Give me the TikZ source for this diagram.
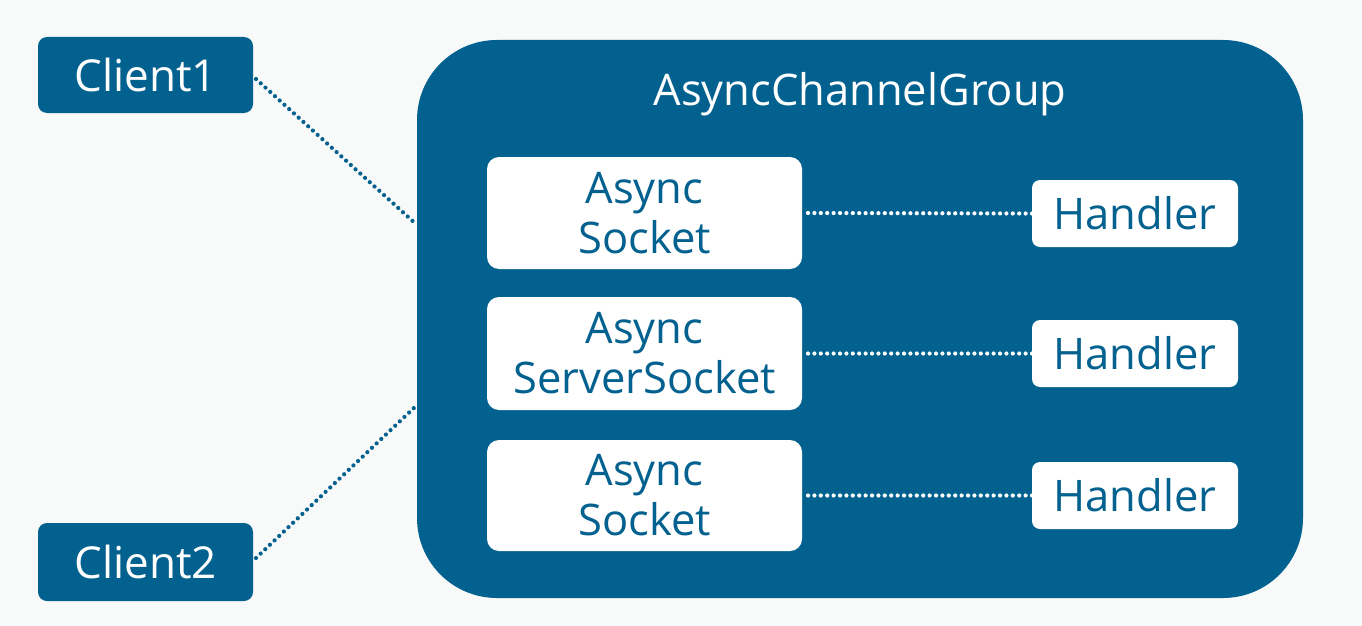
\documentclass[tikz,border=0pt]{standalone}
\usepackage{fontspec}
\setmainfont{Open Sans}
\definecolor{bg}{HTML}{F8F9F9}
\definecolor{blu}{HTML}{03618F}
\begin{document}
\begin{tikzpicture}[x=1pt,y=-1pt,
  every node/.style={inner sep=0pt,outer sep=0pt},
  bluebox/.style={fill=blu,text=white,rounded corners=9pt,font=\fontsize{44}{50}\selectfont},
  whitebox/.style={fill=white,text=blu,rounded corners=12pt,align=center,font=\fontsize{43.5}{50}\selectfont},
  dotline/.style={line width=4.2pt,line cap=round,dash pattern=on 0pt off 6.4pt},
  ]
\fill[bg] (0,0) rectangle (1362,626);
\useasboundingbox (0,0) rectangle (1362,626);
% group
\node[fill=blu,rounded corners=80pt,minimum width=886pt,minimum height=558pt] (grp) at (860,319) {};
\node[text=white,font=\fontsize{43.5}{50}\selectfont] (title) at (860,94) {AsyncChannelGroup};
% clients
\node[bluebox,minimum width=215pt,minimum height=76pt] (c1) at (145.5,75) {Client1};
\node[bluebox,minimum width=215pt,minimum height=78pt] (c2) at (145.5,562) {Client2};
% sockets
\node[whitebox,minimum width=315pt,minimum height=112pt] (s1) at (644.5,213) {Async\\Socket};
\node[whitebox,minimum width=315pt,minimum height=113pt] (s2) at (644.5,353.5) {Async\\ServerSocket};
\node[whitebox,minimum width=315pt,minimum height=111pt] (s3) at (644.5,495.5) {Async\\Socket};
% handlers
\node[whitebox,rounded corners=8pt,minimum width=206pt,minimum height=67pt] (h1) at (1135,213.5) {Handler};
\node[whitebox,rounded corners=8pt,minimum width=206pt,minimum height=67pt] (h2) at (1135,353.5) {Handler};
\node[whitebox,rounded corners=8pt,minimum width=206pt,minimum height=67pt] (h3) at (1135,495.5) {Handler};
% connectors
\coordinate (g1) at (417,225);
\coordinate (g2) at (417,405);
\draw[dotline,blu] (c1.east) ++(3,4) -- (g1);
\draw[dotline,blu] (c2.east) ++(3,-4) -- (g2);
\draw[dotline,white] ([xshift=6pt]s1.east) -- (h1.west);
\draw[dotline,white] ([xshift=6pt]s2.east) -- (h2.west);
\draw[dotline,white] ([xshift=6pt]s3.east) -- (h3.west);
\end{tikzpicture}
\end{document}
